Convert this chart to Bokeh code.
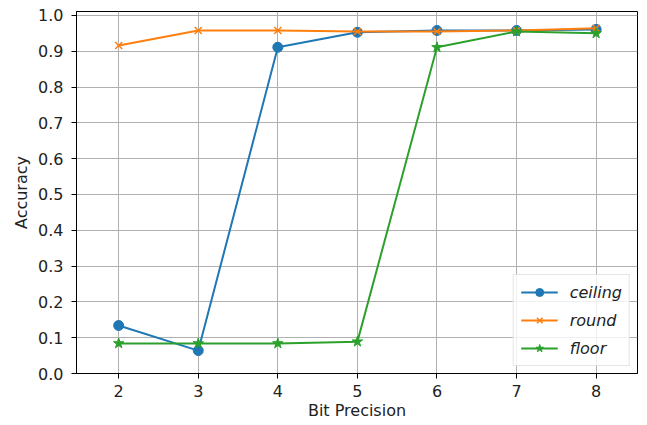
from bokeh.plotting import figure
from bokeh.embed import file_html
from bokeh.resources import INLINE
from bokeh.models import FixedTicker, NumeralTickFormatter, Range1d

bits = [2, 3, 4, 5, 6, 7, 8]
ceiling = [0.134, 0.064, 0.911, 0.953, 0.958, 0.958, 0.961]
round_ = [0.916, 0.958, 0.958, 0.955, 0.955, 0.958, 0.964]
floor = [0.084, 0.084, 0.084, 0.089, 0.911, 0.955, 0.950]
y_ticks = [0.0, 0.1, 0.2, 0.3, 0.4, 0.5, 0.6, 0.7, 0.8, 0.9, 1.0]

FONT = "DejaVu Sans"
FS = "16px"

p = figure(frame_width=561, frame_height=362, output_backend="svg", toolbar_location=None,
           x_range=Range1d(1.47, 8.52), y_range=Range1d(0.0, 1.011),
           min_border_left=76, min_border_right=2, min_border_top=11, min_border_bottom=40)

p.outline_line_color = "black"
p.outline_line_width = 1
p.background_fill_color = "white"
p.border_fill_color = "white"

for ax in (p.xaxis, p.yaxis):
    ax.axis_line_color = "black"
    ax.major_tick_line_color = "black"
    ax.major_tick_out = 5
    ax.major_tick_in = 0
    ax.minor_tick_line_color = None
    ax.major_label_text_font = FONT
    ax.major_label_text_font_size = FS
    ax.major_label_text_color = "#222222"
    ax.axis_label_text_font = FONT
    ax.axis_label_text_font_size = FS
    ax.axis_label_text_font_style = "normal"
    ax.axis_label_text_color = "#222222"

p.xaxis.ticker = FixedTicker(ticks=bits)
p.yaxis.ticker = FixedTicker(ticks=y_ticks)
p.yaxis.formatter = NumeralTickFormatter(format="0.0")
p.xaxis.axis_label = "Bit Precision"
p.yaxis.axis_label = "Accuracy"
p.xaxis.axis_label_standoff = 1
p.yaxis.axis_label_standoff = 4
p.xaxis.major_label_standoff = 6
p.yaxis.major_label_standoff = 8

p.grid.grid_line_color = "#b0b0b0"
p.grid.grid_line_width = 1
p.xgrid.ticker = FixedTicker(ticks=bits)
p.ygrid.ticker = FixedTicker(ticks=y_ticks)

c1, c2, c3 = "#1f77b4", "#ff7f0e", "#2ca02c"

p.line(bits, ceiling, line_color=c1, line_width=2, legend_label="ceiling")
p.scatter(bits, ceiling, marker="circle", size=10, fill_color=c1, line_color=c1, legend_label="ceiling")
p.line(bits, round_, line_color=c2, line_width=2, legend_label="round")
p.scatter(bits, round_, marker="x", size=10, line_color=c2, line_width=1.5, legend_label="round")
p.line(bits, floor, line_color=c3, line_width=2, legend_label="floor")
p.scatter(bits, floor, marker="star", size=11, fill_color=c3, line_color=c3, legend_label="floor")

lg = p.legend[0]
lg.location = "bottom_right"
lg.margin = 7
lg.padding = 7
lg.spacing = 8
lg.label_height = 20
lg.label_text_font = FONT
lg.label_text_font_size = FS
lg.label_text_font_style = "italic"
lg.label_text_color = "#222222"
lg.glyph_width = 37
lg.label_standoff = 12
lg.border_line_color = "#cccccc"
lg.border_line_width = 1
lg.background_fill_alpha = 0.8

open("out.html", "w").write(file_html(p, INLINE))
